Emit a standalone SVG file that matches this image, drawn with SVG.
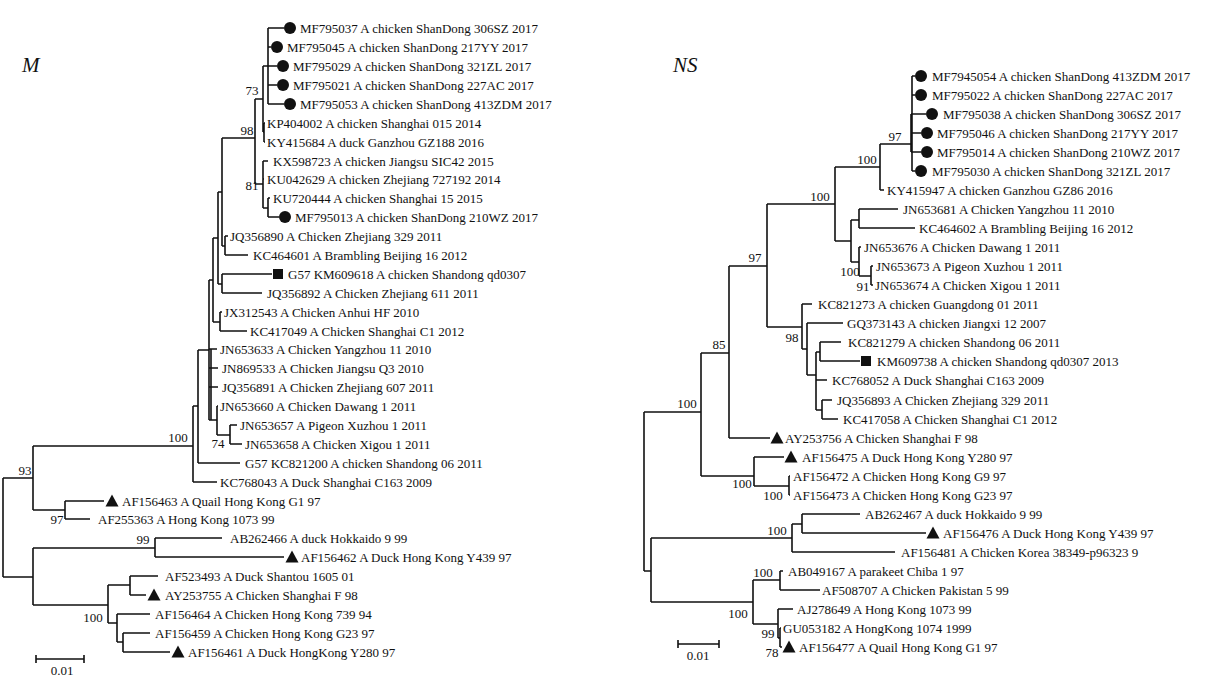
<svg xmlns="http://www.w3.org/2000/svg" xmlns:xlink="http://www.w3.org/1999/xlink" width="1209" height="684" viewBox="0 0 1209 684">
<style>
.t{font-family:"Liberation Serif","Times New Roman",serif;font-size:13px;fill:#111}
.b{font-family:"Liberation Serif","Times New Roman",serif;font-size:13px;fill:#111;text-anchor:middle}
.h{font-family:"Liberation Serif","Times New Roman",serif;font-size:21px;font-style:italic;fill:#111}
.conn{fill:none;stroke:#111;stroke-width:1.6}
</style>
<defs>
<circle id="dot" cx="0" cy="0" r="6" fill="#111"/>
<rect id="sq" x="-5" y="-5" width="10" height="10" fill="#111"/>
<path id="tri" d="M0,-6.5 L6.5,5.5 L-6.5,5.5 Z" fill="#111"/>
</defs>
<rect x="0" y="0" width="1209" height="684" fill="#fff"/>
<text class="h" x="22" y="72">M</text>
<text class="h" x="673" y="72">NS</text>
<g id="connectors">
<path class="conn" d="M3,478 V577 M3,478 H33 M33,446 V510 M33,446 H193 M33,510 H65 M65,501 V519 M65,501 H104 M65,519 H90 M3,577 H33 M33,548 V605 M33,548 H155 M155,538 V557 M155,538 H222 M155,557 H284 M33,605 H108 M108,585 V623 M108,585 H130 M130,576 V595 M130,576 H158 M130,595 H146 M108,623 H117 M117,614 V642 M117,614 H150 M117,642 H123 M123,633 V652 M123,633 H150 M123,652 H170
M193,406 V482 M193,406 H198 M193,482 H217 M198,350 V463 M198,350 H209 M198,463 H240 M209,280 V420 M209,280 H213 M209,349 H217 M211,349 V420 M209,368 H218 M209,387 H218 M209,420 H217 M217,406 V435 M217,406 H218 M217,435 H230 M230,425 V444 M230,425 H237 M230,444 H242 M213,238 V322 M213,238 H218 M213,322 H220 M220,312 V331 M220,312 H222 M220,331 H247 M218,192 V284 M218,192 H222 M218,284 H222 M222,274 V293 M222,274 H272 M222,293 H262 M222,138 V246 M222,138 H255 M222,246 H225 M225,236 V255 M225,236 H228 M225,255 H248
M255,99 V184 M255,99 H263 M255,184 H263 M263,66 V132 M263,66 H268 M263,132 H264 M264,123 V142 M264,123 H265 M264,142 H265 M268,28 V104 M268,28 H284 M268,47 H271 M268,66 H277 M268,85 H277 M268,104 H284 M263,161 V208 M263,161 H268 M263,179 H264 M263,208 H268 M268,198 V217 M268,198 H270 M268,217 H279"/>
<path class="conn" d="M36,659 H84 M36,655 V663 M84,655 V663"/>
<path class="conn" d="M644,412 V571 M644,412 H701 M701,353 V476 M701,353 H729 M729,266 V438 M729,266 H767 M729,438 H770 M767,204 V327 M767,204 H835 M835,167 V241 M835,167 H880 M880,144 V190 M880,144 H912 M880,190 H884 M912,76 V171 M912,76 H915 M912,95 H915 M911,114 V152 M911,114 H926 M911,133 H921 M911,152 H921 M912,171 H915
M835,241 H851 M851,220 V262 M851,220 H859 M859,209 V228 M859,209 H898 M859,228 H915 M851,262 H859 M859,247 V276 M859,247 H861 M859,276 H871 M871,266 V285 M871,266 H873 M871,285 H873
M767,327 H802 M802,304 V349 M802,304 H812 M802,349 H807 M807,323 V375 M807,323 H843 M807,375 H816 M816,352 V410 M816,352 H820 M820,342 V361 M820,342 H841 M820,361 H860 M816,380 H827 M816,410 H822 M822,400 V419 M822,400 H832 M822,419 H838
M701,476 H754 M754,457 V486 M754,457 H784 M754,486 H789 M789,476 V495 M789,476 H790 M789,495 H790
M644,571 H651 M651,538 V602 M651,538 H792 M792,524 V552 M792,524 H802 M802,514 V533 M802,514 H860 M802,533 H926 M792,552 H895 M651,602 H753 M753,580 V624 M753,580 H780 M780,571 V590 M780,571 H783 M780,590 H820 M753,624 H778 M778,609 V638 M778,609 H793 M778,638 H780 M780,628 V647 M780,628 H781 M780,647 H782"/>
<path class="conn" d="M678,644 H719 M678,640 V648 M719,640 V648"/>
</g>
<g id="scale-left"><text class="b" x="62" y="675">0.01</text></g>
<g id="scale-right"><text class="b" x="698" y="660">0.01</text></g>
<g id="support-left">
<text class="b" x="252" y="95">73</text>
<text class="b" x="247" y="135">98</text>
<text class="b" x="252" y="190">81</text>
<text class="b" x="178" y="442">100</text>
<text class="b" x="218" y="448">74</text>
<text class="b" x="25" y="475">93</text>
<text class="b" x="57" y="524">97</text>
<text class="b" x="143" y="544">99</text>
<text class="b" x="93" y="622">100</text>
</g>
<g id="support-right">
<text class="b" x="895" y="141">97</text>
<text class="b" x="867" y="164">100</text>
<text class="b" x="820" y="201">100</text>
<text class="b" x="755" y="262">97</text>
<text class="b" x="850" y="276">100</text>
<text class="b" x="863" y="291">91</text>
<text class="b" x="792" y="342">98</text>
<text class="b" x="719" y="349">85</text>
<text class="b" x="687" y="408">100</text>
<text class="b" x="742" y="488">100</text>
<text class="b" x="773" y="500">100</text>
<text class="b" x="777" y="535">100</text>
<text class="b" x="763" y="577">100</text>
<text class="b" x="738" y="618">100</text>
<text class="b" x="768" y="638">99</text>
<text class="b" x="772" y="657">78</text>
</g>
<g id="L01"><use xlink:href="#dot" x="290" y="28"/><text class="t" x="300" y="32.5">MF795037 A chicken ShanDong 306SZ 2017</text></g>
<g id="L02"><use xlink:href="#dot" x="277" y="47"/><text class="t" x="287" y="51.5">MF795045 A chicken ShanDong 217YY 2017</text></g>
<g id="L03"><use xlink:href="#dot" x="283" y="66"/><text class="t" x="293" y="70.5">MF795029 A chicken ShanDong 321ZL 2017</text></g>
<g id="L04"><use xlink:href="#dot" x="283" y="85"/><text class="t" x="293" y="89.5">MF795021 A chicken ShanDong 227AC 2017</text></g>
<g id="L05"><use xlink:href="#dot" x="290" y="104"/><text class="t" x="300" y="108.5">MF795053 A chicken ShanDong 413ZDM 2017</text></g>
<g id="L06"><text class="t" x="267" y="127.5">KP404002 A chicken Shanghai 015 2014</text></g>
<g id="L07"><text class="t" x="267" y="146.5">KY415684 A duck Ganzhou GZ188 2016</text></g>
<g id="L08"><text class="t" x="273" y="165.5">KX598723 A chicken Jiangsu SIC42 2015</text></g>
<g id="L09"><text class="t" x="267" y="183.5">KU042629 A chicken Zhejiang 727192 2014</text></g>
<g id="L10"><text class="t" x="273" y="202.5">KU720444 A chicken Shanghai 15 2015</text></g>
<g id="L11"><use xlink:href="#dot" x="285" y="217"/><text class="t" x="295" y="221.5">MF795013 A chicken ShanDong 210WZ 2017</text></g>
<g id="L12"><text class="t" x="230" y="240.5">JQ356890 A Chicken Zhejiang 329 2011</text></g>
<g id="L13"><text class="t" x="253" y="259.5">KC464601 A Brambling Beijing 16 2012</text></g>
<g id="L14"><use xlink:href="#sq" x="278" y="274"/><text class="t" x="288" y="278.5">G57 KM609618 A chicken Shandong qd0307</text></g>
<g id="L15"><text class="t" x="267" y="297.5">JQ356892 A Chicken Zhejiang 611 2011</text></g>
<g id="L16"><text class="t" x="224" y="316.5">JX312543 A Chicken Anhui HF 2010</text></g>
<g id="L17"><text class="t" x="250" y="335.5">KC417049 A Chicken Shanghai C1 2012</text></g>
<g id="L18"><text class="t" x="220" y="353.5">JN653633 A Chicken Yangzhou 11 2010</text></g>
<g id="L19"><text class="t" x="222" y="372.5">JN869533 A Chicken Jiangsu Q3 2010</text></g>
<g id="L20"><text class="t" x="222" y="391.5">JQ356891 A Chicken Zhejiang 607 2011</text></g>
<g id="L21"><text class="t" x="220" y="410.5">JN653660 A Chicken Dawang 1 2011</text></g>
<g id="L22"><text class="t" x="240" y="429.5">JN653657 A Pigeon Xuzhou 1 2011</text></g>
<g id="L23"><text class="t" x="245" y="448.5">JN653658 A Chicken Xigou 1 2011</text></g>
<g id="L24"><text class="t" x="245" y="467.5">G57 KC821200 A chicken Shandong 06 2011</text></g>
<g id="L25"><text class="t" x="220" y="486.5">KC768043 A Duck Shanghai C163 2009</text></g>
<g id="L26"><use xlink:href="#tri" x="112" y="501"/><text class="t" x="122" y="505.5">AF156463 A Quail Hong Kong G1 97</text></g>
<g id="L27"><text class="t" x="98" y="523.5">AF255363 A Hong Kong 1073 99</text></g>
<g id="L28"><text class="t" x="230" y="542.5">AB262466 A duck Hokkaido 9 99</text></g>
<g id="L29"><use xlink:href="#tri" x="292" y="557"/><text class="t" x="301" y="561.5">AF156462 A Duck Hong Kong Y439 97</text></g>
<g id="L30"><text class="t" x="165" y="580.5">AF523493 A Duck Shantou 1605 01</text></g>
<g id="L31"><use xlink:href="#tri" x="154" y="595"/><text class="t" x="165" y="599.5">AY253755 A Chicken Shanghai F 98</text></g>
<g id="L32"><text class="t" x="155" y="618.5">AF156464 A Chicken Hong Kong 739 94</text></g>
<g id="L33"><text class="t" x="155" y="637.5">AF156459 A Chicken Hong Kong G23 97</text></g>
<g id="L34"><use xlink:href="#tri" x="178" y="652"/><text class="t" x="188" y="656.5">AF156461 A Duck HongKong Y280 97</text></g>
<g id="R00"><use xlink:href="#dot" x="921" y="76"/><text class="t" x="932" y="80.5">MF7945054 A chicken ShanDong 413ZDM 2017</text></g>
<g id="R01"><use xlink:href="#dot" x="921" y="95"/><text class="t" x="932" y="99.5">MF795022 A chicken ShanDong 227AC 2017</text></g>
<g id="R02"><use xlink:href="#dot" x="932" y="114"/><text class="t" x="943" y="118.5">MF795038 A chicken ShanDong 306SZ 2017</text></g>
<g id="R03"><use xlink:href="#dot" x="927" y="133"/><text class="t" x="937" y="137.5">MF795046 A chicken ShanDong 217YY 2017</text></g>
<g id="R04"><use xlink:href="#dot" x="927" y="152"/><text class="t" x="937" y="156.5">MF795014 A chicken ShanDong 210WZ 2017</text></g>
<g id="R05"><use xlink:href="#dot" x="921" y="171"/><text class="t" x="932" y="175.5">MF795030 A chicken ShanDong 321ZL 2017</text></g>
<g id="R06"><text class="t" x="887" y="194.5">KY415947 A chicken Ganzhou GZ86 2016</text></g>
<g id="R07"><text class="t" x="903" y="213.5">JN653681 A Chicken Yangzhou 11 2010</text></g>
<g id="R08"><text class="t" x="919" y="232.5">KC464602 A Brambling Beijing 16 2012</text></g>
<g id="R09"><text class="t" x="864" y="251.5">JN653676 A Chicken Dawang 1 2011</text></g>
<g id="R10"><text class="t" x="876" y="270.5">JN653673 A Pigeon Xuzhou 1 2011</text></g>
<g id="R11"><text class="t" x="875" y="289.5">JN653674 A Chicken Xigou 1 2011</text></g>
<g id="R12"><text class="t" x="818" y="308.5">KC821273 A chicken Guangdong 01 2011</text></g>
<g id="R13"><text class="t" x="847" y="327.5">GQ373143 A chicken Jiangxi 12 2007</text></g>
<g id="R14"><text class="t" x="848" y="346.5">KC821279 A chicken Shandong 06 2011</text></g>
<g id="R15"><use xlink:href="#sq" x="866" y="361"/><text class="t" x="877" y="365.5">KM609738 A chicken Shandong qd0307 2013</text></g>
<g id="R16"><text class="t" x="832" y="384.5">KC768052 A Duck Shanghai C163 2009</text></g>
<g id="R17"><text class="t" x="837" y="404.5">JQ356893 A Chicken Zhejiang 329 2011</text></g>
<g id="R18"><text class="t" x="843" y="423.5">KC417058 A Chicken Shanghai C1 2012</text></g>
<g id="R19"><use xlink:href="#tri" x="777" y="438"/><text class="t" x="785" y="442.5">AY253756 A Chicken Shanghai F 98</text></g>
<g id="R20"><use xlink:href="#tri" x="791" y="457"/><text class="t" x="802" y="461.5">AF156475 A Duck Hong Kong Y280 97</text></g>
<g id="R21"><text class="t" x="793" y="480.5">AF156472 A Chicken Hong Kong G9 97</text></g>
<g id="R22"><text class="t" x="793" y="499.5">AF156473 A Chicken Hong Kong G23 97</text></g>
<g id="R23"><text class="t" x="865" y="518.5">AB262467 A duck Hokkaido 9 99</text></g>
<g id="R24"><use xlink:href="#tri" x="933" y="533"/><text class="t" x="943" y="537.5">AF156476 A Duck Hong Kong Y439 97</text></g>
<g id="R25"><text class="t" x="901" y="556.5">AF156481 A Chicken Korea 38349-p96323 9</text></g>
<g id="R26"><text class="t" x="788" y="575.5">AB049167 A parakeet Chiba 1 97</text></g>
<g id="R27"><text class="t" x="822" y="594.5">AF508707 A Chicken Pakistan 5 99</text></g>
<g id="R28"><text class="t" x="797" y="613.5">AJ278649 A Hong Kong 1073 99</text></g>
<g id="R29"><text class="t" x="783" y="632.5">GU053182 A HongKong 1074 1999</text></g>
<g id="R30"><use xlink:href="#tri" x="789" y="647"/><text class="t" x="799" y="651.5">AF156477 A Quail Hong Kong G1 97</text></g>
</svg>
